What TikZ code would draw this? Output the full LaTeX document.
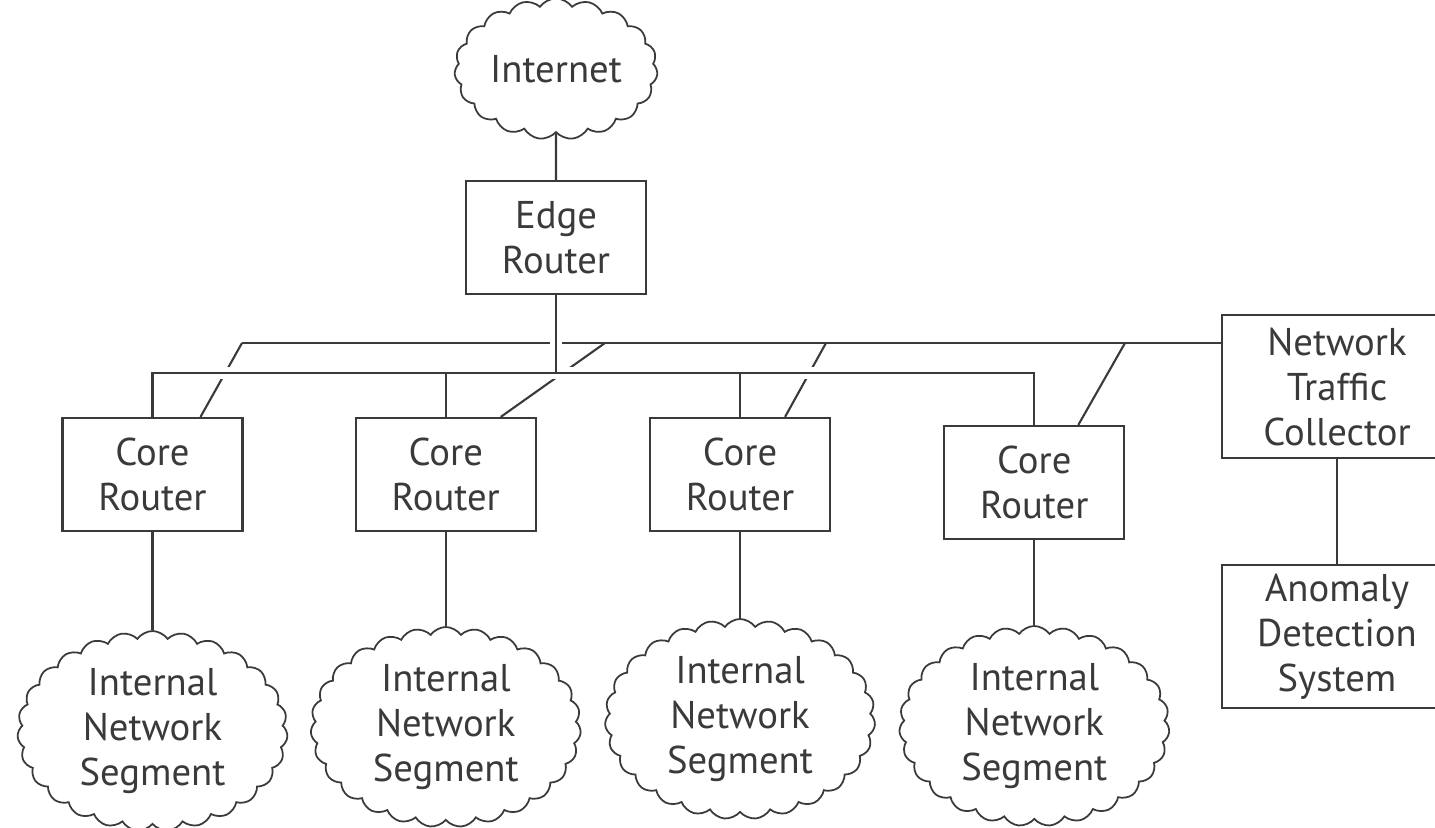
\documentclass[tikz,border=0pt]{standalone}
\usepackage{fontspec}
\setmainfont{PT Sans}
\usetikzlibrary{shapes.symbols, positioning, calc}
\definecolor{inkgray}{HTML}{3A3A3A}

\begin{document}
\begin{tikzpicture}[
    x=0.01cm, y=-0.01cm,
    router/.style={rectangle, draw=inkgray, fill=white, line width=0.6pt, minimum width=1.8cm, minimum height=1.13cm, align=center, inner sep=0pt},
    monitor/.style={router, minimum width=2.3cm, minimum height=1.43cm},
    netcloud/.style={cloud, draw=inkgray, fill=white, line width=0.5pt, cloud puffs=27, cloud puff arc=110, cloud ignores aspect, minimum width=2.7cm, minimum height=2.0cm, align=center, inner sep=0pt},
    link/.style={draw=inkgray, line width=0.6pt},
    gap/.style={draw=white, line width=3.5pt},
    every node/.append style={font=\fontsize{11}{12.8}\selectfont, text=inkgray}
]
    \clip (0,0) rectangle (1435,828);

    \node[router] (edge) at (556,237.5) {Edge\\Router};
    \node[netcloud, cloud puffs=19, minimum width=2.03cm, minimum height=1.41cm] (internet) at (556,69) {Internet};

    \node[router] (core1) at (152.5,474.5) {Core\\Router};
    \node[router, right=1.11cm of core1] (core2) {Core\\Router};
    \node[router, right=1.12cm of core2] (core3) {Core\\Router};
    \node[router, right=1.12cm of core3, yshift=-0.08cm] (core4) {Core\\Router};

    \node[netcloud, below=0.98cm of core1] (seg1) {Internal\\Network\\Segment};
    \node[netcloud, below=0.94cm of core2] (seg2) {Internal\\Network\\Segment};
    \node[netcloud, below=0.86cm of core3] (seg3) {Internal\\Network\\Segment};
    \node[netcloud, below=0.85cm of core4] (seg4) {Internal\\Network\\Segment};

    \node[monitor] (collector) at (1337,386.5) {Network\\Traffic\\Collector};
    \node[monitor, below=1.05cm of collector] (anomaly) {Anomaly\\Detection\\System};

    % bus heights and collector taps
    \coordinate (lbus) at (556,373);
    \coordinate (tap1) at (242,343);
    \coordinate (tap2) at (605,343);
    \coordinate (tap3) at (826,343);
    \coordinate (tap4) at (1125,343);

    \draw[link] (internet) -- (edge);

    % collector bus
    \draw[link] (collector.west |- tap1) -- (tap1);
    \draw[link] (tap1) -- ($(core1.north)+(48,0)$);
    \draw[link] (tap2) -- ($(core2.north)+(55,0)$);
    \draw[link] (tap3) -- ($(core3.north)+(45,0)$);
    \draw[link] (tap4) -- ($(core4.north)+(44,0)$);

    % routing bus
    \draw[gap, shorten <=5pt, shorten >=5pt] (edge.south) -- (edge.south |- lbus);
    \draw[gap] (core1.north |- lbus) -- (core4.north |- lbus);
    \draw[link] (core1.north) |- (lbus) -| (core4.north);
    \draw[link] (core2.north) -- (core2.north |- lbus);
    \draw[link] (core3.north) -- (core3.north |- lbus);
    \draw[link] (edge) -- (edge.south |- lbus);

    \draw[link] (core1) -- (seg1);
    \draw[link] (core2) -- (seg2);
    \draw[link] (core3) -- (seg3);
    \draw[link] (core4) -- (seg4);
    \draw[link] (collector) -- (anomaly);
\end{tikzpicture}
\end{document}
